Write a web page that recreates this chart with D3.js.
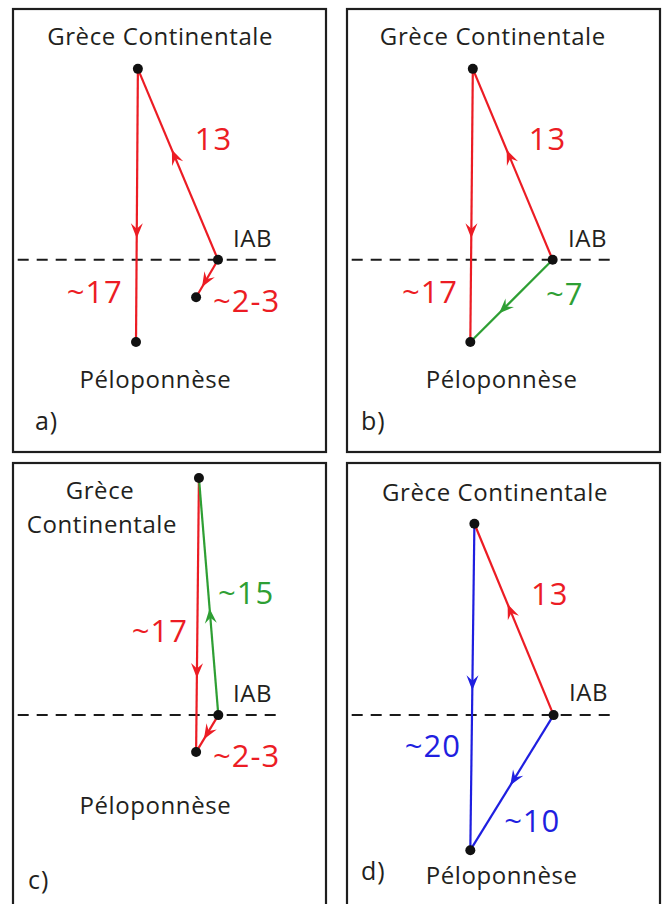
<!DOCTYPE html>
<html><head><meta charset="utf-8">
<script src="https://cdn.jsdelivr.net/npm/d3@7"></script>
<style>body{margin:0;background:#fff} svg{display:block}</style>
</head><body>
<script>
// ---------- DATA ----------
const panelTags = ["a)", "b)", "c)", "d)"];

// node positions in diagram units (0–100 grid of each panel)
const nodesA = [{id:"G", x:39.9, y:13.6}, {id:"P", x:39.3, y:75.7}, {id:"I", x:65.5, y:57.0}, {id:"S", x:58.5, y:65.5}];
const nodesB = [{id:"G", x:40.2, y:13.6}, {id:"P", x:39.4, y:75.7}, {id:"I", x:65.7, y:57.0}];
const nodesC = [{id:"G", x:59.4, y:3.4}, {id:"P", x:58.5, y:65.7}, {id:"I", x:65.6, y:57.3}];
const nodesD = [{id:"G", x:40.7, y:13.8}, {id:"P", x:39.4, y:88.0}, {id:"I", x:66.0, y:57.3}];

// fluxes: source -> target, value label, colour key
const linksA = [{s:"G", t:"P", v:"~17", c:"red"}, {s:"I", t:"G", v:"13", c:"red"}, {s:"I", t:"S", v:"~2-3", c:"red"}];
const linksB = [{s:"G", t:"P", v:"~17", c:"red"}, {s:"I", t:"G", v:"13", c:"red"}, {s:"I", t:"P", v:"~7", c:"green"}];
const linksC = [{s:"G", t:"P", v:"~17", c:"red"}, {s:"I", t:"G", v:"~15", c:"green"}, {s:"I", t:"P", v:"~2-3", c:"red"}];
const linksD = [{s:"G", t:"P", v:"~20", c:"blue"}, {s:"I", t:"G", v:"13", c:"red"}, {s:"I", t:"P", v:"~10", c:"blue"}];

const placeNames = ["Grèce Continentale", "Péloponnèse", "IAB"];

// ---------- STYLE / LAYOUT ----------
const fluxColors = {red:"#ec1c24", green:"#2e9f34", blue:"#1f1fe0"};
const inkColor = "#231f20";

// arrowhead position along each flux (fraction from source)
const arrowAt = [[0.62, 0.576, 0.73], [0.62, 0.576, 0.65], [0.73, 0.45, 0.65], [0.51, 0.58, 0.52]];

// label placements per panel in diagram units: [text, x, y, anchor]
const layoutA = {names:[["Grèce Continentale",47.0,8.2,"middle"],["Péloponnèse",45.5,86.1,"middle"],["IAB",70.3,54.1,"start"]],
  values:[[35.1,66.8,"end"],[58.1,32.0,"start"],[63.9,68.9,"start"]], tag:[7.0,95.7]};
const layoutB = {names:[["Grèce Continentale",46.6,8.2,"middle"],["Péloponnèse",49.4,86.1,"middle"],["IAB",70.6,54.1,"start"]],
  values:[[35.5,66.8,"end"],[58.1,32.0,"start"],[63.6,67.3,"start"]], tag:[4.5,95.7]};
const layoutC = {names:[["Grèce",27.8,8.2,"middle"],["Continentale",28.4,15.9,"middle"],["Péloponnèse",45.5,79.8,"middle"],["IAB",70.3,54.3,"start"]],
  values:[[55.9,40.7,"end"],[65.5,32.0,"start"],[63.9,69.1,"start"]], tag:[4.8,96.8]};
const layoutD = {names:[["Grèce Continentale",47.3,8.6,"middle"],["Péloponnèse",49.4,95.7,"middle"],["IAB",70.9,54.1,"start"]],
  values:[[36.4,66.8,"end"],[58.8,32.3,"start"],[50.2,83.9,"start"]], tag:[4.5,94.8]};

const panels = [
  {nodes:nodesA, links:linksA, layout:layoutA, ox:13,  oy:9,   h:443},
  {nodes:nodesB, links:linksB, layout:layoutB, ox:347, oy:9,   h:443},
  {nodes:nodesC, links:linksC, layout:layoutC, ox:13,  oy:463, h:470},
  {nodes:nodesD, links:linksD, layout:layoutD, ox:347, oy:463, h:470}
];

const W = 662, H = 904, panelW = 313;
const x = d3.scaleLinear().domain([0,100]).range([0,313]);
const y = d3.scaleLinear().domain([0,100]).range([0,440]);

const svg = d3.select("body").append("svg").attr("width", W).attr("height", H);

const arrowPath = "M0,0 L-15,-6 L-9.5,0 L-15,6 Z";

panels.forEach((p, i) => {
  const g = svg.append("g").attr("transform", `translate(${p.ox},${p.oy})`);
  g.append("rect").attr("x",0).attr("y",0).attr("width",panelW).attr("height",p.h)
    .attr("fill","none").attr("stroke","#1e1e1e").attr("stroke-width",2.2);

  const byId = new Map(p.nodes.map(n => [n.id, n]));
  const iab = byId.get("I");

  // dashed boundary line through IAB
  g.append("line").attr("x1", x(1.5)).attr("x2", x(86.3))
    .attr("y1", y(iab.y)).attr("y2", y(iab.y))
    .attr("stroke","#1a1a1a").attr("stroke-width",2).attr("stroke-dasharray","11,8");

  // flux lines
  g.selectAll("line.flux").data(p.links).join("line").attr("class","flux")
    .attr("x1", d => x(byId.get(d.s).x)).attr("y1", d => y(byId.get(d.s).y))
    .attr("x2", d => x(byId.get(d.t).x)).attr("y2", d => y(byId.get(d.t).y))
    .attr("stroke", d => fluxColors[d.c]).attr("stroke-width", 2.2);

  // arrowheads
  g.selectAll("path.arrow").data(p.links).join("path").attr("class","arrow")
    .attr("d", arrowPath)
    .attr("fill", d => fluxColors[d.c])
    .attr("transform", (d, k) => {
      const s = byId.get(d.s), t = byId.get(d.t);
      const sx = x(s.x), sy = y(s.y), tx = x(t.x), ty = y(t.y);
      const f = arrowAt[i][k];
      const px = sx + f*(tx-sx), py = sy + f*(ty-sy);
      const ang = Math.atan2(ty-sy, tx-sx) * 180 / Math.PI;
      return `translate(${px},${py}) rotate(${ang})`;
    });

  // nodes
  g.selectAll("circle").data(p.nodes).join("circle")
    .attr("cx", d => x(d.x)).attr("cy", d => y(d.y)).attr("r", 5).attr("fill","#111");

  // place names
  g.selectAll("text.name").data(p.layout.names).join("text").attr("class","name")
    .attr("x", d => x(d[1])).attr("y", d => y(d[2])).attr("text-anchor", d => d[3])
    .attr("font-family","'Open Sans', sans-serif").attr("font-size",24).attr("font-weight",500)
    .attr("letter-spacing","0.6px").attr("fill",inkColor).text(d => d[0]);

  // flux values
  g.selectAll("text.val").data(p.links).join("text").attr("class","val")
    .attr("x", (d,k) => x(p.layout.values[k][0])).attr("y", (d,k) => y(p.layout.values[k][1]))
    .attr("text-anchor", (d,k) => p.layout.values[k][2])
    .attr("font-family","'Open Sans', sans-serif").attr("font-size",31).attr("font-weight",500)
    .attr("letter-spacing","1px").attr("fill", d => fluxColors[d.c]).text(d => d.v);

  // panel tag
  g.append("text").attr("x", x(p.layout.tag[0])).attr("y", y(p.layout.tag[1]))
    .attr("font-family","'Open Sans', sans-serif").attr("font-size",25).attr("font-weight",500)
    .attr("letter-spacing","1px").attr("fill",inkColor).text(panelTags[i]);
});
</script>
</body></html>
